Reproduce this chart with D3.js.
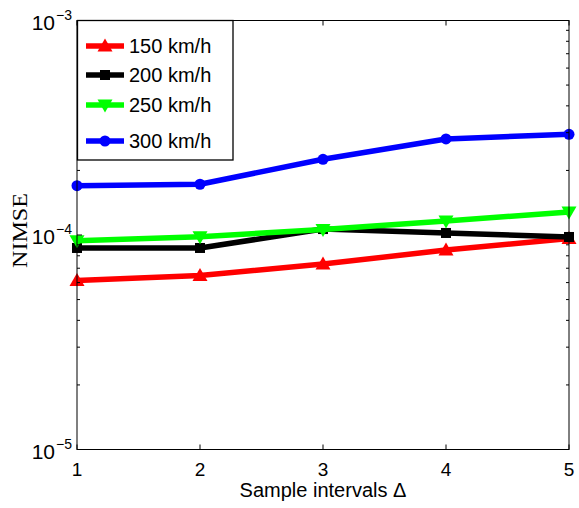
<!DOCTYPE html>
<html><head><meta charset="utf-8">
<script src="https://cdn.jsdelivr.net/npm/d3@7"></script>
<style>body{margin:0;background:#fff}svg{display:block}</style>
</head><body>
<svg id="c" width="579" height="508"></svg>
<script>
const intervals = [1, 2, 3, 4, 5];
const s150 = [6.14e-5, 6.48e-5, 7.32e-5, 8.51e-5, 9.63e-5];
const s200 = [8.70e-5, 8.70e-5, 1.066e-4, 1.022e-4, 9.79e-5];
const s250 = [9.41e-5, 9.82e-5, 1.061e-4, 1.162e-4, 1.280e-4];
const s300 = [1.698e-4, 1.724e-4, 2.254e-4, 2.803e-4, 2.948e-4];
const seriesNames = ["150 km/h", "200 km/h", "250 km/h", "300 km/h"];
const seriesColors = ["#ff0000", "#000000", "#00ff00", "#0000ff"];
const seriesMarkers = ["triUp", "square", "triDown", "circle"];
const yTickExps = [-5, -4, -3];
const xLabel = "Sample intervals \u0394";
const yLabel = "NIMSE";

const allSeries = [s150, s200, s250, s300];
const L = 77, R = 569, T = 20.5, B = 449.5;
const svg = d3.select("#c");
const x = d3.scaleLinear().domain([1, 5]).range([L, R]);
const y = d3.scaleLog().domain([1e-5, 1e-3]).range([B, T]);
const font = "'Liberation Sans', Arial, Helvetica, sans-serif";

function marker(g, type, cx, cy, color) {
  if (type === "circle") {
    g.append("circle").attr("cx", cx).attr("cy", cy).attr("r", 5.5).attr("fill", color);
  } else if (type === "square") {
    g.append("rect").attr("x", cx - 5).attr("y", cy - 5).attr("width", 10).attr("height", 10).attr("fill", color);
  } else if (type === "triUp") {
    g.append("path").attr("d", `M${cx},${cy - 7.5}L${cx + 7.5},${cy + 5.5}L${cx - 7.5},${cy + 5.5}Z`).attr("fill", color);
  } else {
    g.append("path").attr("d", `M${cx},${cy + 7.5}L${cx + 7.5},${cy - 5.5}L${cx - 7.5},${cy - 5.5}Z`).attr("fill", color);
  }
}

// series
const line = d3.line().x((d, i) => x(intervals[i])).y(d => y(d));
allSeries.forEach((s, k) => {
  const g = svg.append("g");
  g.append("path").datum(s).attr("d", line).attr("fill", "none")
    .attr("stroke", seriesColors[k]).attr("stroke-width", 5.5).attr("stroke-linejoin", "round");
  s.forEach((v, i) => marker(g, seriesMarkers[k], x(intervals[i]), y(v), seriesColors[k]));
});

// axes frame and ticks
const ax = svg.append("g").attr("stroke", "#000").attr("stroke-width", 1);
ax.append("rect").attr("x", L).attr("y", T).attr("width", R - L).attr("height", B - T).attr("fill", "none");
intervals.forEach(v => {
  ax.append("line").attr("x1", x(v)).attr("x2", x(v)).attr("y1", B).attr("y2", B - 5);
  ax.append("line").attr("x1", x(v)).attr("x2", x(v)).attr("y1", T).attr("y2", T + 5);
});
const minor = [];
for (let e = -5; e < -3; e++) for (let m = 2; m <= 9; m++) minor.push(m * Math.pow(10, e));
minor.forEach(v => {
  ax.append("line").attr("x1", L).attr("x2", L + 3).attr("y1", y(v)).attr("y2", y(v));
  ax.append("line").attr("x1", R).attr("x2", R - 3).attr("y1", y(v)).attr("y2", y(v));
});
yTickExps.forEach(e => {
  const v = Math.pow(10, e);
  ax.append("line").attr("x1", L).attr("x2", L + 5).attr("y1", y(v)).attr("y2", y(v));
  ax.append("line").attr("x1", R).attr("x2", R - 5).attr("y1", y(v)).attr("y2", y(v));
});

// tick labels
intervals.forEach(v => {
  svg.append("text").attr("x", x(v)).attr("y", B + 26.5).attr("text-anchor", "middle")
    .attr("font-family", font).attr("font-size", 19).text(v);
});
yTickExps.forEach(e => {
  const yy = y(Math.pow(10, e));
  svg.append("text").attr("x", 55).attr("y", yy + 9).attr("text-anchor", "end")
    .attr("font-family", font).attr("font-size", 21).text("10");
  svg.append("text").attr("x", 56).attr("y", yy - 1).attr("text-anchor", "start")
    .attr("font-family", font).attr("font-size", 14).text("\u2212" + Math.abs(e));
});

// axis labels
svg.append("text").attr("x", (L + R) / 2).attr("y", 497).attr("text-anchor", "middle")
  .attr("font-family", font).attr("font-size", 20).text(xLabel);
svg.append("text").attr("transform", "translate(27,230.5) rotate(-90)").attr("text-anchor", "middle")
  .attr("font-family", "'Liberation Serif', 'Times New Roman', serif").attr("font-size", 21)
  .attr("textLength", 75).attr("lengthAdjust", "spacingAndGlyphs").text(yLabel);

// legend
const lg = svg.append("g");
lg.append("rect").attr("x", 77.5).attr("y", 20.5).attr("width", 155.5).attr("height", 139.5)
  .attr("fill", "#fff").attr("stroke", "#000").attr("stroke-width", 1.3);
const rowsY = [46, 75, 105, 141];
seriesNames.forEach((n, k) => {
  const yy = rowsY[k];
  lg.append("line").attr("x1", 86).attr("x2", 124).attr("y1", yy).attr("y2", yy)
    .attr("stroke", seriesColors[k]).attr("stroke-width", 5.5);
  marker(lg, seriesMarkers[k], 105, yy, seriesColors[k]);
  lg.append("text").attr("x", 129).attr("y", yy + 7).attr("font-family", font).attr("font-size", 20).text(n);
});
</script>
</body></html>
